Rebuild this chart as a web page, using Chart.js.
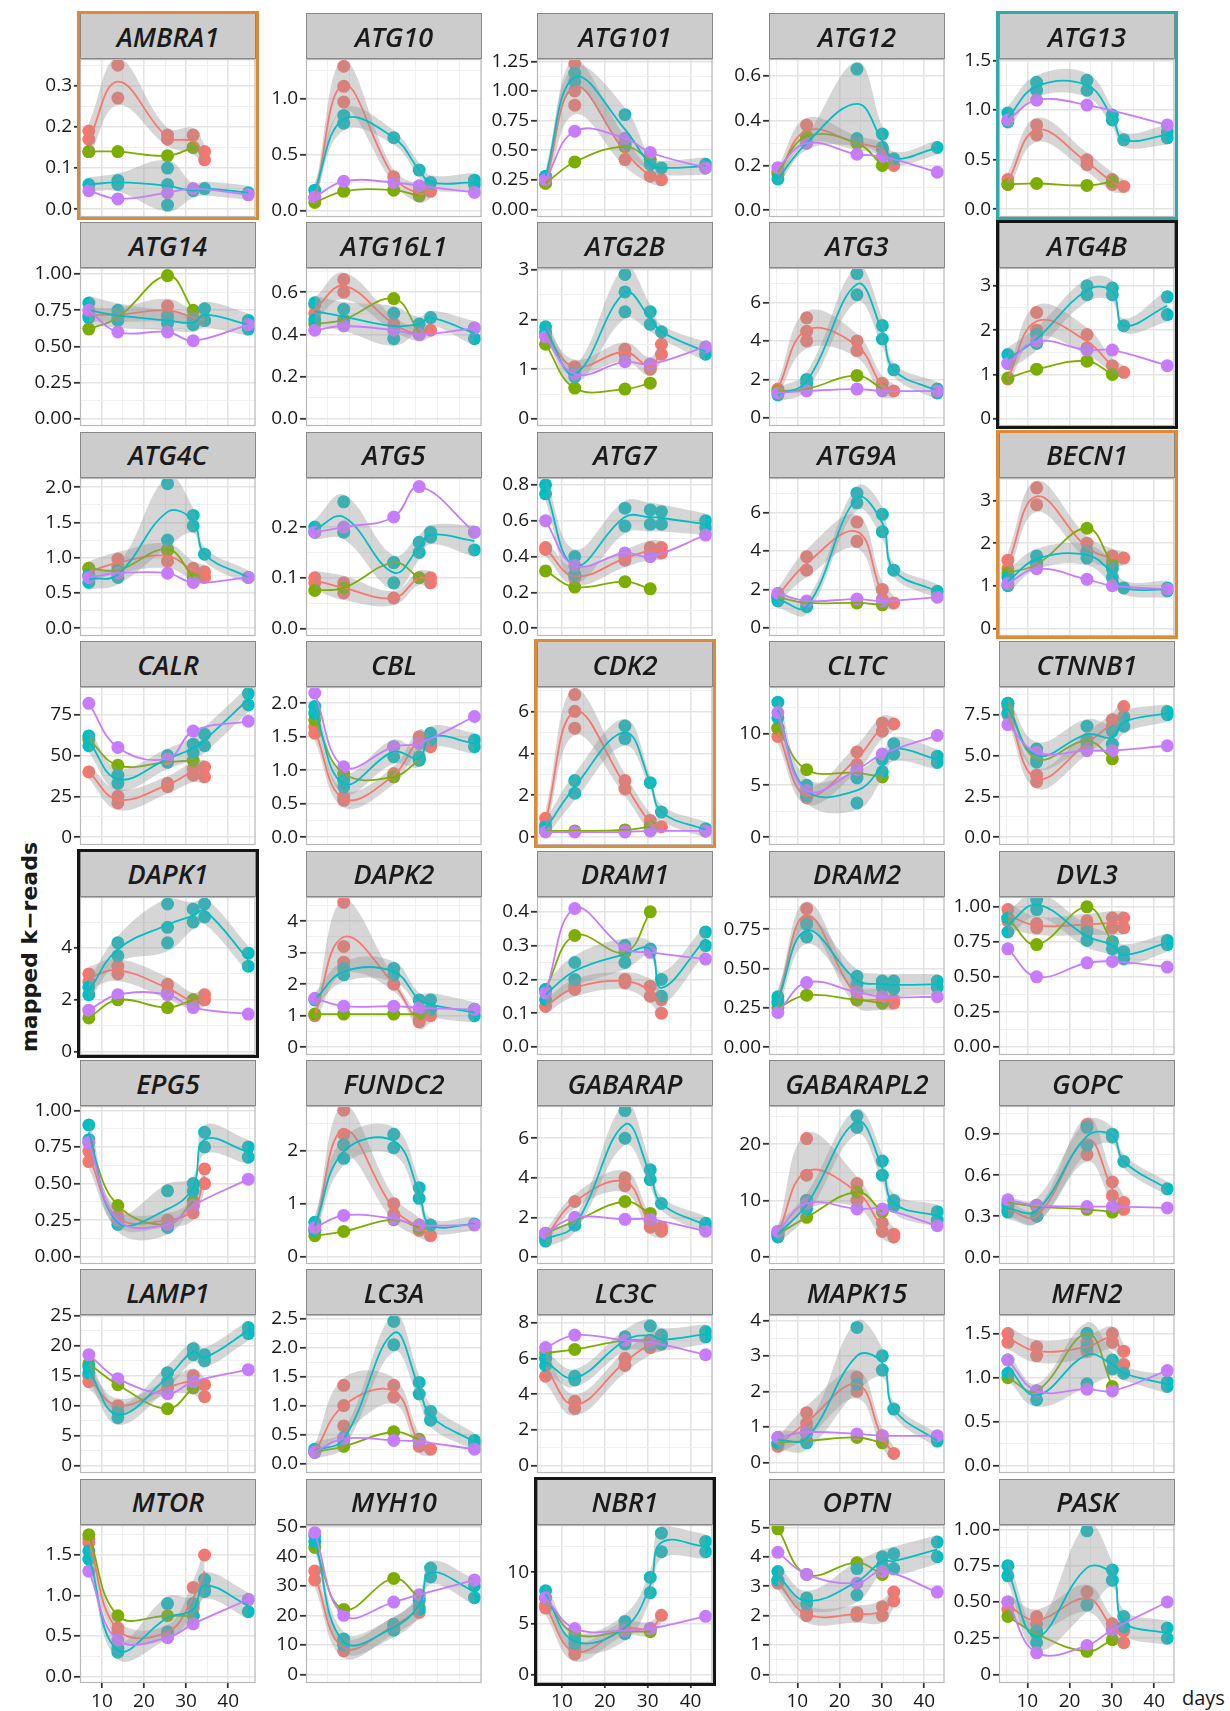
<!DOCTYPE html>
<html>
<head>
<meta charset="utf-8">
<script src="https://cdn.jsdelivr.net/npm/chart.js@4"></script>
<style>
  body { margin: 0; background: #fff; width: 1230px; height: 1711px; position: relative; overflow: hidden; font-family: 'Open Sans', sans-serif; }
  canvas { position: absolute; z-index: 1; }
  .strip { position: absolute; z-index: 3; box-sizing: border-box; background: #CCCCCC; border: 1.5px solid #888;
           display: flex; align-items: center; justify-content: center; font-style: italic; font-weight: 600;
           font-size: 27px; color: #1a1a1a; }
  .hl { position: absolute; z-index: 4; box-sizing: border-box; border: 3px solid; }
  .lbl { position: absolute; color: #1a1a1a; white-space: nowrap; }
</style>
</head>
<body>
<script>
// genes, one panel each (facet order)
const genes = ['AMBRA1','ATG10','ATG101','ATG12','ATG13','ATG14','ATG16L1','ATG2B','ATG3','ATG4B',
  'ATG4C','ATG5','ATG7','ATG9A','BECN1','CALR','CBL','CDK2','CLTC','CTNNB1',
  'DAPK1','DAPK2','DRAM1','DRAM2','DVL3','EPG5','FUNDC2','GABARAP','GABARAPL2','GOPC',
  'LAMP1','LC3A','LC3C','MAPK15','MFN2','MTOR','MYH10','NBR1','OPTN','PASK'];

// sampling days (x) for the panels of each column, and x range per column
const dayCols = [
  [6.9, 13.8, 25.6, 31.7, 34.4, 44.8],
  [8.0, 14.6, 26.0, 31.8, 34.4, 44.4],
  [6.2, 13.0, 24.7, 30.6, 33.2, 43.5],
  [5.4, 12.2, 24.1, 30.1, 32.8, 43.1],
  [5.4, 12.2, 24.1, 30.1, 32.8, 43.1]
];
const xRanges = [[4.8, 46.5], [6, 46], [4.2, 45.1], [3.3, 44.8], [3.3, 44.8]];

// y axis per gene
const yMin = [-0.019,-0.06,-0.065,-0.03,-0.078,-0.049,-0.034,-0.14,-0.42,-0.16,
  -0.11,-0.015,-0.043,-0.42,-0.18,-4.8,-0.116,-0.37,-0.75,-0.48,
  -0.13,-0.25,-0.024,-0.05,-0.058,-0.05,-0.13,-0.36,-1.3,-0.05,
  -1.2,-0.16,-0.4,-0.3,-0.08,-0.08,-2.9,-0.8,-0.29,-0.058];
const yMax = [0.365,1.355,1.27,0.675,1.515,1.042,0.715,3.03,7.79,3.40,
  2.13,0.297,0.838,7.79,3.53,92,2.24,7.16,14.46,9.2,
  5.97,4.77,0.444,0.954,1.07,1.03,2.83,7.63,26.8,1.106,
  25.1,2.56,8.42,4.15,1.71,1.87,50.6,14.6,5.08,1.03];
const yStep = [0.1,0.5,0.25,0.2,0.5,0.25,0.2,1,2,1,
  0.5,0.1,0.2,2,1,25,0.5,2,5,2.5,
  2,1,0.1,0.25,0.25,0.25,1,2,10,0.3,
  5,0.5,2,1,0.5,0.5,10,5,1,0.25];
const yDec = [1,1,2,1,1,2,1,0,0,0,
  1,1,1,0,0,0,1,0,0,1,
  0,0,1,2,2,2,0,0,0,1,
  0,1,0,0,1,1,0,0,0,2];
const zeroPlain = ['PASK'];

// series values: 6 sampling days, replicates per day (null = not sampled)
const red = [
  [[0.19,0.17,0.14],[0.35,0.27],[0.18,0.17],[0.18,0.15],[0.14,0.12],null],
  [0.11,[1.29,1.11,0.97],0.3,[0.17,0.13],0.17,null],
  [0.22,[1.23,1.0,0.88],[0.55,0.42],0.28,0.25,null],
  [0.16,[0.38,0.33],0.3,0.27,0.2,null],
  [[0.3,0.25],[0.85,0.75],[0.5,0.45],[0.3,0.25],0.23,null],
  [0.72,0.72,[0.78,0.72],0.7,0.68,null],
  [[0.54,0.5],[0.66,0.6],0.45,0.4,0.42,null],
  [1.7,1.05,[1.4,1.3],[1.1,1.0],[1.5,1.3],null],
  [1.5,[5.2,4.5,4.0],[4.0,3.5],[1.8,1.5],1.4,null],
  [0.9,[2.4,2.0],[1.9,1.6],1.2,1.05,null],
  [[0.85,0.75],[0.98,0.88],[1.1,0.95],[0.85,0.78],[0.8,0.72],null],
  [[0.1,0.09],[0.09,0.07],0.06,0.1,[0.1,0.09],null],
  [[0.45,0.44],[0.3,0.28],[0.4,0.38],[0.45,0.42],[0.45,0.42],null],
  [1.7,[3.7,3.0],[5.5,4.5],[2.0,1.5],1.3,null],
  [[1.6,1.4],[3.3,2.9],[2.0,1.8],[1.7,1.6],1.65,null],
  [40,[25,21],[33,31],[42,38],[43,37],null],
  [[1.65,1.55],[0.6,0.55],[0.95,0.9],[1.5,1.4],[1.4,1.35],null],
  [[0.9,0.6],[6.8,6.0,5.2],[2.7,2.3],[0.8,0.6],0.5,null],
  [[10.5,9.7],[3.8,4.2],[8.2,7.0],[11,10.2],10.9,null],
  [[8.0,7.5],[3.8,3.4],[6.0,5.5],[7.2,6.8],[8.0,7.4],null],
  [[3.0,2.7],[3.3,3.0],[2.6,2.3],[2.0,1.9],[2.2,2.0],null],
  [1.0,[4.6,3.2,2.7],2.0,[0.85,0.8],[1.2,1.0],null],
  [0.12,[0.18,0.17],[0.2,0.19],[0.18,0.15],[0.14,0.1],null],
  [0.3,[0.88,0.8],[0.35,0.3],[0.32,0.28],[0.3,0.28],null],
  [[0.98,0.9],[0.88,0.85],[0.9,0.85],[0.92,0.85],[0.92,0.85],null],
  [[0.72,0.65],[0.28,0.25],0.25,[0.35,0.3],[0.6,0.5],null],
  [0.5,[2.75,2.3,2.1],[1.0,0.8],[0.6,0.5],0.4,null],
  [1.0,2.8,[4.0,3.6],[1.8,1.5],[1.5,1.3],null],
  [4.0,[21,14.5,10],[13,10],[6,4.5],[4,3.5],null],
  [0.35,0.3,[0.97,0.75],[0.55,0.45],[0.4,0.35],null],
  [[15,14],10,13,[15,13],[13.5,11.5],null],
  [0.2,[1.35,1.0,0.65],[1.35,1.15],[0.4,0.3],0.25,null],
  [[6.0,5.0],[3.6,3.2],[6.0,5.6],[7.0,6.6],[7.2,6.8],null],
  [[0.5,0.45],[1.4,1.1,0.9],[2.4,2.0],[0.75,0.6],0.25,null],
  [[1.5,1.4],[1.35,1.25],[1.4,1.3],[1.5,1.4],[1.3,1.15],null],
  [[1.7,1.65],[0.6,0.55],0.55,[1.1,0.85],[1.5,1.1],null],
  [[35,32],[10,8],[17,16],[23,21],null,null],
  [[6.8,6.5],[2.5,2.0],4.5,4.5,5.8,null],
  [[3.2,3.1],[2.1,2.0],[2.1,2.0],[2.3,2.0],[2.8,2.5],null],
  [[0.5,0.45],[0.4,0.35],[0.57,0.48],[0.35,0.3],[0.3,0.22],null]
];
const green = [
  [0.14,0.14,0.13,0.15,null,null],[0.07,0.17,0.18,0.13,null,null],[0.22,0.4,0.53,0.42,null,null],
  [0.17,0.33,0.3,0.2,null,null],[0.25,0.26,0.24,0.28,null,null],[0.62,0.7,0.99,0.75,null,null],
  [0.45,0.47,0.57,0.41,null,null],[1.5,0.62,0.6,0.72,null,null],[1.4,1.5,2.2,1.5,null,null],
  [0.92,1.12,1.3,1.0,null,null],[0.85,0.82,1.12,0.72,null,null],[0.075,0.08,0.13,0.1,null,null],
  [0.32,0.23,0.26,0.22,null,null],[1.6,1.3,1.3,1.2,null,null],[1.3,1.5,2.35,1.5,null,null],
  [60,44,46,47,null,null],[1.75,0.95,0.9,1.15,null,null],[0.3,0.3,0.35,0.5,null,null],
  [10.5,6.5,6.2,5.8,null,null],[8.2,4.8,5.9,4.8,null,null],[1.3,2.0,1.7,2.0,null,null],
  [1.05,1.05,1.05,1.05,null,null],[0.17,0.33,0.28,0.4,null,null],[0.25,0.33,0.3,0.28,null,null],
  [0.92,0.73,1.0,0.75,null,null],[0.78,0.35,0.22,0.38,null,null],[0.4,0.48,0.7,0.55,null,null],
  [1.2,1.8,2.8,2.2,null,null],[4.0,7.0,11.5,8,null,null],[0.4,0.37,0.35,0.33,null,null],
  [17,13.5,9.5,13,null,null],[0.2,0.3,0.55,0.42,null,null],[6.3,6.5,7.0,7.0,null,null],
  [0.55,0.6,0.7,0.55,null,null],[1.0,0.85,1.5,0.9,null,null],[1.75,0.75,0.75,0.75,null,null],
  [43,22,32.5,26,null,null],[7.5,4.0,4.2,4.2,null,null],[4.95,3.4,3.8,3.4,null,null],
  [0.4,0.28,0.16,0.24,null,null]
];
const teal = [
  [0.06,[0.07,0.06],[0.1,0.06,0.01],0.045,0.05,0.04],
  [0.18,[0.85,0.78],0.65,0.36,0.25,[0.27,0.23]],
  [0.28,[1.15,1.08],[0.8,0.55],0.38,0.35,[0.38,0.35]],
  [0.14,0.3,[0.63,0.32],[0.34,0.28],0.23,0.28],
  [[0.97,0.88],[1.28,1.2],[1.3,1.2],[0.95,0.9],0.7,[0.78,0.72]],
  [[0.8,0.7],[0.75,0.68],[0.7,0.66],[0.68,0.65],[0.76,0.68],[0.68,0.62]],
  [[0.55,0.47],[0.52,0.45],[0.5,0.38],0.45,0.48,[0.43,0.38]],
  [[1.85,1.75],[0.95,0.85],[2.9,2.55,2.15],[2.15,1.9],1.75,[1.4,1.3]],
  [1.2,[2.0,1.8],[7.5,6.4],[4.8,4.1],2.5,[1.5,1.3]],
  [[1.45,1.25],[1.9,1.7],[3.0,2.8],[2.95,2.8],2.1,[2.75,2.35]],
  [[0.75,0.65],[0.8,0.72],[2.05,1.25],[1.6,1.45],1.05,0.72],
  [[0.2,0.19],[0.25,0.19],[0.13,0.09],[0.17,0.15],[0.19,0.18],[0.19,0.155]],
  [[0.8,0.75],[0.4,0.3],[0.67,0.57],[0.66,0.58],[0.65,0.58],[0.6,0.56]],
  [[1.6,1.4],1.1,[7.0,6.5],[5.9,5.0],3.0,1.9],
  [[1.2,1.0],[1.7,1.55],[1.8,1.65],[1.4,1.2],0.95,[0.95,0.88]],
  [[62,56],[38,33],[50,46],[57,52],[63,56],[88,81]],
  [[1.95,1.85],[0.85,0.75],[1.35,1.2],[1.2,1.15],[1.55,1.45],[1.45,1.35]],
  [[0.5,0.3],[2.7,2.1],[5.3,4.7],2.6,1.2,[0.4,0.3]],
  [[13,11.5],[5.0,4.0],[5.7,3.3],[7.5,6.3],[9.0,8.0],[7.8,7.2]],
  [[8.2,7.6],[5.4,4.6],[6.8,5.8],[6.5,5.7],[7.3,6.8],[7.7,7.5]],
  [[2.5,2.2],[4.2,3.7],[5.7,4.8,4.2],[5.5,5.0],[5.7,5.2],[3.8,3.3]],
  [1.5,[2.5,2.3],[2.5,2.3],1.5,[1.5,1.2],[1.2,1.0]],
  [[0.17,0.14],[0.25,0.2],[0.3,0.25],0.29,[0.2,0.15],[0.34,0.3]],
  [[0.32,0.28],[0.78,0.7],[0.45,0.4],[0.42,0.38],[0.42,0.37],[0.42,0.38]],
  [[0.92,0.82],[1.05,0.98],[0.82,0.76],[0.75,0.7],[0.68,0.63],[0.76,0.73]],
  [[0.9,0.8],[0.25,0.22],[0.45,0.2],[0.5,0.45],[0.85,0.75],[0.75,0.68]],
  [[0.65,0.5],[2.1,1.85],[2.3,2.05],[1.3,1.1],0.6,0.62],
  [[1.0,0.8],1.6,[7.4,6.0],[4.4,3.9],2.7,[1.7,1.5]],
  [[4.5,3.5],[10,8.5],[25,23],[17,14.5],[10,9],[8,6.5]],
  [[0.38,0.33],[0.38,0.3],[0.95,0.82],[0.9,0.88],0.7,0.5],
  [[16.5,15.5],[9,8],[15.5,14],[19.5,18.5],[18.5,17.5],[23,22]],
  [[0.25,0.2],[0.45,0.4],[2.45,2.05],[1.4,1.2],[0.9,0.75],[0.4,0.35]],
  [[6.0,5.6],[5.0,4.8],[7.2,6.8],[7.8,6.8],[7.3,6.8],[7.5,7.2]],
  [[0.7,0.55],[0.8,0.55],[3.8,2.2],[3.0,2.6],1.5,0.6],
  [[1.2,1.05],[0.85,0.75],[1.5,1.35,0.93],[1.2,1.1],1.05,[0.95,0.9]],
  [[1.55,1.45],[0.35,0.3],[0.9,0.55],[0.9,0.75],[1.2,1.05],[0.95,0.8]],
  [[47,45],[12,10],[17,15],[25,22],[36,33],[30,26]],
  [[8.2,7.5],[3.5,3.0],[5.2,4.0],[9.5,8.0],[13.8,12.0],[13.0,12.0]],
  [[3.5,3.2],[2.6,2.4],[3.6,2.7],[4.0,3.7],[4.1,3.6],[4.5,4.0]],
  [[0.75,0.68],[0.3,0.22],[0.99,0.48],[0.72,0.65],[0.4,0.33],[0.32,0.25]]
];
const purple = [
  [0.045,0.025,0.04,0.05,null,0.035],[0.12,0.26,0.25,0.22,null,0.16],[0.25,0.66,0.6,0.48,null,0.35],
  [0.19,0.3,0.25,0.24,null,0.17],[0.9,1.1,1.05,null,null,0.85],[0.75,0.6,0.6,0.54,null,0.65],
  [0.42,0.44,0.42,0.4,null,0.43],[1.65,0.9,1.15,1.1,null,1.45],[1.3,1.4,1.5,1.4,null,1.4],
  [1.25,1.75,1.55,1.55,null,1.2],[0.72,0.78,0.78,0.65,null,0.72],[0.19,0.2,0.22,0.28,null,0.19],
  [0.6,0.35,0.42,0.4,null,0.52],[1.8,1.4,1.5,1.4,null,1.6],[1.05,1.4,1.15,1.0,null,0.92],
  [82,55,48,65,null,71],[2.15,1.05,1.35,1.4,null,1.8],[0.25,0.25,0.25,0.3,null,0.3],
  [12,4.5,6.5,8.0,null,9.8],[6.9,5.2,5.3,5.3,null,5.6],[1.6,2.2,2.2,1.7,null,1.45],
  [1.55,1.3,1.3,1.25,null,1.2],[0.16,0.41,0.29,0.28,null,0.26],[0.22,0.41,0.35,0.32,null,0.32],
  [0.7,0.5,0.6,0.61,null,0.57],[0.78,0.25,0.22,0.35,null,0.53],[0.55,0.78,0.72,0.6,null,0.6],
  [1.2,2.0,1.9,1.9,null,1.3],[4.5,9.5,8.5,8.5,null,5.5],[0.42,0.38,0.37,0.37,null,0.36],
  [18.5,14.5,12,14,null,16],[0.2,0.43,0.4,0.38,null,0.25],[6.6,7.3,7.0,6.9,null,6.2],
  [0.7,0.85,0.8,0.75,null,0.75],[1.2,0.85,0.87,0.85,null,1.08],[1.3,0.45,0.48,0.65,null,0.95],
  [48,20,24.5,27,null,32],[7.5,4.5,4.3,4.5,null,5.7],[4.15,3.4,3.1,3.5,null,2.8],
  [0.5,0.15,0.2,0.31,null,0.5]
];

const highlight = { AMBRA1: '#DF8A34', ATG13: '#2EAAAA', ATG4B: '#151515', BECN1: '#DF8A34',
                    CDK2: '#DF8A34', DAPK1: '#151515', NBR1: '#151515' };

Chart.defaults.font.family = "'Open Sans', sans-serif";

const colLeft = [80, 306, 537, 769, 999];
const plotW = 176, plotH = 158, stripH = 46;

const frame = {
  id: 'frame',
  afterDatasetsDraw(chart) {
    const a = chart.chartArea, c = chart.ctx;
    c.save();
    c.strokeStyle = '#B8B8B8';
    c.lineWidth = 1.2;
    c.strokeRect(a.left + 0.5, a.top + 0.5, a.right - a.left - 1, a.bottom - a.top - 1);
    c.restore();
  }
};

const reps = d => d == null ? [] : (Array.isArray(d) ? d : [d]);

function addDiv(cls, text, css) {
  const d = document.createElement('div');
  d.className = cls;
  if (text) d.textContent = text;
  Object.assign(d.style, css);
  document.body.appendChild(d);
  return d;
}

genes.forEach((g, i) => {
  const r = Math.floor(i / 5), c = i % 5, bottom = r === 7;
  const top = 13 + r * 209.4, pl = colLeft[c], pt = top + stripH;
  const days = dayCols[c];
  const step = yStep[i], yr = yMax[i] - yMin[i];
  const isMaj = v => Math.abs(v / step - Math.round(v / step)) < 1e-6;
  const fmt = v => (Math.abs(v) < 1e-9 && zeroPlain.includes(g)) ? '0' : v.toFixed(yDec[i]);

  addDiv('strip', g, { left: pl + 'px', top: top + 'px', width: plotW + 'px', height: stripH + 'px' });
  if (highlight[g]) {
    addDiv('hl', '', { left: (pl - 3) + 'px', top: (top - 2) + 'px', width: (plotW + 6) + 'px',
                        height: (stripH + plotH + 5) + 'px', borderColor: highlight[g] });
  }

  const W = plotW + 66, H = plotH + 16 + (bottom ? 34 : 16);
  const cv = document.createElement('canvas');
  cv.width = W; cv.height = H;
  Object.assign(cv.style, { left: (pl - 60) + 'px', top: (pt - 16) + 'px', width: W + 'px', height: H + 'px' });
  document.body.appendChild(cv);

  const pts = arr => { const o = []; arr.forEach((d, k) => reps(d).forEach(v => o.push({ x: days[k], y: v }))); return o; };
  const mean = arr => { const o = []; arr.forEach((d, k) => { const v = reps(d); if (v.length) o.push({ x: days[k], y: v.reduce((a, b) => a + b, 0) / v.length }); }); return o; };
  const band = (arr, sign) => { const o = []; arr.forEach((d, k) => { const v = reps(d); if (!v.length) return;
      const m = v.reduce((a, b) => a + b, 0) / v.length;
      const half = (Math.max(...v) - Math.min(...v)) / 2 + 0.045 * yr;
      o.push({ x: days[k], y: m + sign * half }); }); return o; };

  const series = [
    { arr: red[i], col: '#F8766D', ribbon: true },
    { arr: green[i], col: '#7CAE00', ribbon: false },
    { arr: teal[i], col: '#00BFC4', ribbon: true },
    { arr: purple[i], col: '#C77CFF', ribbon: false }
  ];
  const curve = { tension: 0.4, pointRadius: 0 };
  const datasets = [];
  series.forEach((s, k) => {
    datasets.push({ data: pts(s.arr), showLine: false, pointRadius: 6.5, pointBorderWidth: 0,
                    pointBackgroundColor: s.col, pointHoverRadius: 6.5, order: 100 - k });
  });
  series.forEach((s, k) => {
    if (s.ribbon) {
      datasets.push({ ...curve, data: band(s.arr, 1), borderWidth: 0, fill: false, order: 50 - 3 * k });
      datasets.push({ ...curve, data: band(s.arr, -1), borderWidth: 0,
                      fill: '-1', backgroundColor: 'rgba(153,153,153,0.4)', order: 50 - 3 * k });
    }
    datasets.push({ ...curve, data: mean(s.arr), borderColor: s.col, borderWidth: 1.8,
                    fill: false, order: 49 - 3 * k });
  });

  new Chart(cv, {
    type: 'line',
    data: { datasets },
    options: {
      responsive: false, animation: false, devicePixelRatio: 1,
      layout: { padding: { left: 0, right: 6, top: 16, bottom: bottom ? 0 : 16 } },
      plugins: { legend: { display: false }, tooltip: { enabled: false } },
      scales: {
        x: {
          type: 'linear', min: xRanges[c][0], max: xRanges[c][1],
          afterFit: s => { s.height = bottom ? 34 : 0; },
          border: { display: false },
          grid: {
            color: ctx => (ctx.tick && ctx.tick.value % 10 === 0) ? '#E4E4E4' : '#EFEFEF',
            lineWidth: ctx => (ctx.tick && ctx.tick.value % 10 === 0) ? 1.6 : 1,
            drawTicks: bottom, tickLength: 5, tickWidth: 1.8,
            tickColor: ctx => (ctx.tick && ctx.tick.value % 10 === 0) ? '#333' : 'rgba(0,0,0,0)'
          },
          ticks: {
            display: bottom, stepSize: 5, autoSkip: false, maxRotation: 0, includeBounds: false,
            padding: 2, color: '#1a1a1a', font: { size: 19 },
            callback: v => v % 10 === 0 ? String(v) : ''
          }
        },
        y: {
          type: 'linear', min: yMin[i], max: yMax[i],
          afterFit: s => { s.width = 60; },
          border: { display: false },
          grid: {
            color: ctx => (ctx.tick && isMaj(ctx.tick.value)) ? '#E4E4E4' : '#EFEFEF',
            lineWidth: ctx => (ctx.tick && isMaj(ctx.tick.value)) ? 1.6 : 1,
            drawTicks: true, tickLength: 6, tickWidth: 1.8,
            tickColor: ctx => (ctx.tick && isMaj(ctx.tick.value)) ? '#333' : 'rgba(0,0,0,0)'
          },
          ticks: {
            stepSize: step / 2, autoSkip: false, includeBounds: false, padding: 2,
            color: '#1a1a1a', font: { size: 19 },
            callback: v => isMaj(v) ? fmt(v) : ''
          }
        }
      }
    },
    plugins: [frame]
  });
});

// axis titles
addDiv('lbl', 'mapped k\u2212reads', { left: '29px', top: '947px', transform: 'translate(-50%,-50%) rotate(-90deg)',
  fontFamily: "'DejaVu Sans', sans-serif", fontWeight: 'bold', fontSize: '22px' });
addDiv('lbl', 'days', { left: '1182px', top: '1684px', fontSize: '20px' });
</script>
</body>
</html>
